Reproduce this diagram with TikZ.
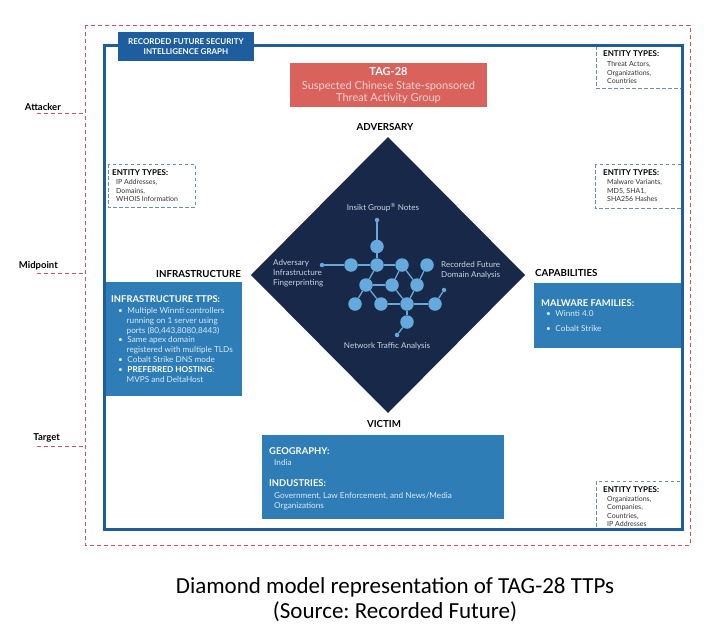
\documentclass[tikz,border=0pt]{standalone}
\usepackage{fontspec}
\setmainfont{Lato}
\newfontfamily\capfont{Carlito}
\frenchspacing
\definecolor{frameblue}{HTML}{1F5E9E}
\definecolor{boxblue}{HTML}{2E7DB6}
\definecolor{tagred}{HTML}{D9625C}
\definecolor{tagtxt}{HTML}{F8D3CF}
\definecolor{reddash}{HTML}{D2505F}
\definecolor{navy}{HTML}{172848}
\definecolor{netblue}{HTML}{66AADD}
\definecolor{entgray}{HTML}{6A8CAD}
\definecolor{bodytxt}{HTML}{DCEAF6}
\definecolor{navytxt}{HTML}{C9D6E6}
\begin{document}
\begin{tikzpicture}[x=1pt,y=-1pt,
  frameline/.style={draw=frameblue, line width=3pt},
  redframe/.style={draw=reddash, line width=1pt, dash pattern=on 4pt off 3pt},
  entbox/.style={draw=entgray, line width=0.9pt, dash pattern=on 3.5pt off 2.5pt},
  netnode/.style={circle, fill=netblue, minimum size=13.5pt, inner sep=0pt},
  netdot/.style={circle, fill=netblue, minimum size=4.5pt, inner sep=0pt},
  netedge/.style={draw=netblue, line width=1.3pt},
  sidelbl/.style={font=\bfseries\fontsize{9.7}{11}\selectfont, inner sep=0pt},
  cornerlbl/.style={font=\fontsize{9.5}{11}\selectfont\bfseries, inner sep=0pt},
  enthead/.style={font=\bfseries\fontsize{8}{9}\selectfont, inner sep=0pt, anchor=north west},
  entbody/.style={font=\fontsize{7}{8.5}\selectfont, align=left, inner sep=0pt, anchor=north west, text=black!80},
  netlbl/.style={font=\fontsize{8.1}{10}\selectfont, text=navytxt, inner sep=0pt, align=left},
  boxhead/.style={font=\bfseries\fontsize{9.4}{11}\selectfont, text=white, inner sep=0pt, anchor=north west},
  boxbody/.style={font=\fontsize{8.2}{9.9}\selectfont, text=bodytxt, inner sep=0pt, anchor=north west, align=left}
]
\useasboundingbox (0,0) rectangle (713,632);
\fill[white] (0,0) rectangle (713,632);

% outer red dashed frame and blue frame
\draw[redframe] (85,25) rectangle (690,545);
\draw[frameline] (104,45) rectangle (682,529);

% left side labels
\node[cornerlbl, anchor=east] (attacker) at (61,107) {Attacker};
\coordinate (attA) at (37,113);
\coordinate (attB) at (85,113);
\draw[redframe] (attA) -- (attB);
\node[cornerlbl, anchor=east] (midpoint) at (58,266) {Midpoint};
\coordinate (midA) at (37,273);
\coordinate (midB) at (85,273);
\draw[redframe] (midA) -- (midB);
\node[cornerlbl, anchor=east] (target) at (60,438) {Target};
\coordinate (tarA) at (37,446);
\coordinate (tarB) at (85,446);
\draw[redframe] (tarA) -- (tarB);

% TAG-28 box
\node[fill=tagred, minimum width=197pt, minimum height=44pt, inner sep=0pt] (tag) at (388.5,85) {};
\node[font=\bfseries\fontsize{11}{12}\selectfont, text=white, inner sep=0pt] (tagname) at (388.5,72) {TAG-28};
\node[font=\fontsize{11}{12}\selectfont, text=tagtxt, align=center, inner sep=0pt] (tagdesc) at (388.5,92)
      {Suspected Chinese State-sponsored\\Threat Activity Group};

% diamond
\fill[navy] (388,137) -- (525,275) -- (388,413) -- (251,275) -- cycle;

% diamond corner labels
\node[sidelbl] (adv) at (385,127) {ADVERSARY};
\node[sidelbl] (vic) at (384,424) {VICTIM};
\node[sidelbl, anchor=east] (infra) at (241,274) {INFRASTRUCTURE};
\node[sidelbl, anchor=west] (cap) at (535,273) {CAPABILITIES};

% network inside diamond
\node[netdot] (td) at (377,220) {};
\node[netnode] (a) at (377,246.5) {};
\node[netdot] (ld) at (322,265) {};
\node[netnode] (r1a) at (351,265) {};
\node[netnode] (r1b) at (377,265) {};
\node[netnode] (r1c) at (402,265) {};
\node[netnode] (r1d) at (427,265) {};
\node[netnode] (r2a) at (366,285) {};
\node[netnode] (r2b) at (392,285) {};
\node[netnode] (r2c) at (417,285) {};
\node[netnode] (r3a) at (355,304) {};
\node[netnode] (r3b) at (381,304) {};
\node[netnode] (r3c) at (407,304) {};
\node[netnode] (r3d) at (435,304) {};
\node[netdot] (rd) at (444,290) {};
\node[netnode] (b) at (407,322) {};
\node[netdot] (bd) at (397,335) {};
\draw[netedge] (td) -- (a);
\draw[netedge] (a) -- (r1b);
\draw[netedge] (ld) -- (r1a);
\draw[netedge] (r1a) -- (r1b);
\draw[netedge] (r1b) -- (r1c);
\draw[netedge] (r1b) -- (r2a);
\draw[netedge] (r1c) -- (r2b);
\draw[netedge] (r1c) -- (r2c);
\draw[netedge] (r1d) -- (r2c);
\draw[netedge] (r2a) -- (r2b);
\draw[netedge] (r2a) -- (r3a);
\draw[netedge] (r2a) -- (r3b);
\draw[netedge] (r2b) -- (r3c);
\draw[netedge] (r2c) -- (r3c);
\draw[netedge] (r3b) -- (r3c);
\draw[netedge] (r3c) -- (r3d);
\draw[netedge] (r3d) -- (rd);
\draw[netedge] (r3c) -- (b);
\draw[netedge] (b) -- (bd);

\node[netlbl, anchor=center] (insikt) at (383,208) {Insikt Group\textsuperscript{\textregistered} Notes};
\node[netlbl, anchor=west] (advinf) at (273,273) {Adversary\\Infrastructure\\Fingerprinting};
\node[netlbl, anchor=west] (rfda) at (441,270) {Recorded Future\\Domain Analysis};
\node[netlbl, anchor=center] (nta) at (387,346) {Network Traffic Analysis};

% infrastructure box
\node[fill=boxblue, minimum width=137pt, minimum height=114pt, inner sep=0pt, anchor=north west] (infrabox) at (105,282) {};
\node[boxhead] (infrahead) at (111,295) {INFRASTRUCTURE TTPS:};
\node[boxbody] (infrabody) at (118,307)
  {\textbullet\hspace{4.5pt}Multiple Winnti controllers\\
   \hspace*{8.5pt}running on 1 server using\\
   \hspace*{8.5pt}ports (80,443,8080,8443)\\
   \textbullet\hspace{4.5pt}Same apex domain\\
   \hspace*{8.5pt}registered with multiple TLDs\\
   \textbullet\hspace{4.5pt}Cobalt Strike DNS mode\\
   \textbullet\hspace{4.5pt}\textcolor{white}{\bfseries PREFERRED HOSTING}:\\
   \hspace*{8.5pt}MVPS and DeltaHost};

% capabilities box
\node[fill=boxblue, minimum width=148pt, minimum height=65pt, inner sep=0pt, anchor=north west] (capbox) at (534,283) {};
\node[boxhead] (caphead) at (541,299.5) {MALWARE FAMILIES:};
\node[boxbody] (capbody1) at (546,310) {\textbullet\hspace{4.5pt}Winnti 4.0};
\node[boxbody] (capbody2) at (546,325) {\textbullet\hspace{4.5pt}Cobalt Strike};

% victim box
\node[fill=boxblue, minimum width=242pt, minimum height=84pt, inner sep=0pt, anchor=north west] (vicbox) at (262,435) {};
\node[boxhead] (geohead) at (269,447.5) {GEOGRAPHY:};
\node[boxbody] (geobody) at (274,459) {India};
\node[boxhead] (indhead) at (269,479.5) {INDUSTRIES:};
\node[boxbody] (indbody) at (274,492) {Government, Law Enforcement, and News/Media\\Organizations};

% entity type boxes
\draw[entbox] (596,46) rectangle (681,88);
\node[enthead] (e1h) at (603,50) {ENTITY TYPES:};
\node[entbody] (e1b) at (607,61.5) {Threat Actors,\\Organizations,\\Countries};

\draw[entbox] (108,164) rectangle (195,207);
\node[enthead] (e2h) at (112,169) {ENTITY TYPES:};
\node[entbody] (e2b) at (116,179.5) {IP Addresses,\\Domains,\\WHOIS Information};

\draw[entbox] (595,164) rectangle (681,208);
\node[enthead] (e3h) at (603,169) {ENTITY TYPES:};
\node[entbody] (e3b) at (607,179.5) {Malware Variants,\\MD5, SHA1,\\SHA256 Hashes};

\draw[entbox] (596,481) rectangle (681,528);
\node[enthead] (e4h) at (603,486) {ENTITY TYPES:};
\node[entbody] (e4b) at (607,496) {Organizations,\\Companies,\\Countries,\\IP Addresses};

% redraw frame on top
\draw[frameline] (104,45) rectangle (682,529);
\node[fill=frameblue, text=white, font=\bfseries\fontsize{8}{10}\selectfont, align=center,
      minimum width=136pt, minimum height=29pt, inner sep=0pt] (title) at (186,46.5)
      {RECORDED FUTURE SECURITY\\INTELLIGENCE GRAPH};

% caption
\node[font=\capfont\fontsize{23}{25}\selectfont, align=center, inner sep=0pt] (caption) at (395,600)
  {Diamond model representation of TAG-28 TTPs\\(Source: Recorded Future)};
\end{tikzpicture}
\end{document}
